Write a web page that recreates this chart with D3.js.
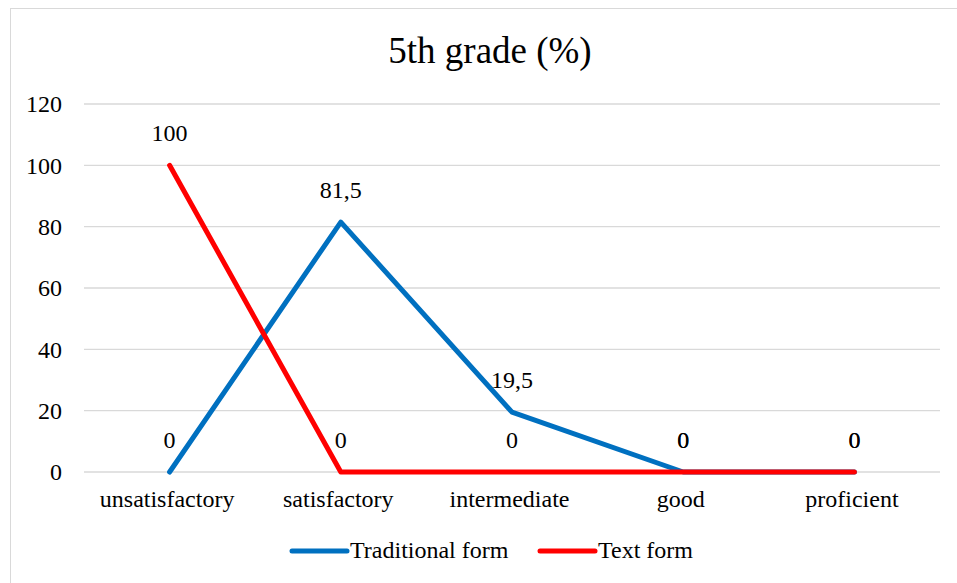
<!DOCTYPE html>
<html>
<head>
<meta charset="utf-8">
<script src="https://cdn.jsdelivr.net/npm/d3@7"></script>
<style>
  body { margin: 0; background: #fff; }
</style>
</head>
<body>
<svg id="chart" width="957" height="583"></svg>
<script>
const categories = ['unsatisfactory', 'satisfactory', 'intermediate', 'good', 'proficient'];
const traditional = [0, 81.5, 19.5, 0, 0];
const textForm = [100, 0, 0, 0, 0];
const seriesNames = ['Traditional form', 'Text form'];
const seriesColors = ['#0070c0', '#ff0000'];
const yTicks = [0, 20, 40, 60, 80, 100, 120];

const FONT = '24px';
const SERIF = '"Liberation Serif"';
const LABEL_OFFSET = 24; // data label baseline above point

const svg = d3.select('#chart');

// outer chart frame (only left/top edges fall inside the picture)
svg.append('rect')
  .attr('x', 10.5).attr('y', 8.5)
  .attr('width', 1000).attr('height', 1000)
  .attr('fill', 'none')
  .attr('stroke', '#d9d9d9');

const plot = { left: 84, right: 940, top: 104, bottom: 472 };

const x = d3.scalePoint()
  .domain(categories)
  .range([plot.left, plot.right])
  .padding(0.5);

const y = d3.scaleLinear()
  .domain([0, 120])
  .range([plot.bottom, plot.top]);

// gridlines
svg.append('g')
  .selectAll('line')
  .data(yTicks)
  .join('line')
  .attr('x1', plot.left)
  .attr('x2', plot.right)
  .attr('y1', d => y(d))
  .attr('y2', d => y(d))
  .attr('stroke', '#d9d9d9')
  .attr('stroke-width', 1.3);

// y axis labels
const yAxis = svg.append('g')
  .attr('transform', `translate(${plot.left}, 0)`)
  .call(d3.axisLeft(y).tickValues(yTicks).tickSize(0).tickPadding(22));
yAxis.select('.domain').remove();
yAxis.selectAll('text')
  .style('font-family', SERIF)
  .style('font-size', FONT)
  .attr('fill', '#000');

// x axis labels
const xAxis = svg.append('g')
  .attr('transform', `translate(0, ${plot.bottom})`)
  .call(d3.axisBottom(x).tickSize(0).tickPadding(18));
xAxis.select('.domain').remove();
xAxis.selectAll('text')
  .attr('dx', -3)
  .style('font-family', SERIF)
  .style('font-size', FONT)
  .attr('fill', '#000');

const allSeries = [traditional, textForm];

const line = d3.line()
  .x((d, i) => x(categories[i]))
  .y(d => y(d));

allSeries.forEach((values, s) => {
  svg.append('path')
    .datum(values)
    .attr('d', line)
    .attr('fill', 'none')
    .attr('stroke', seriesColors[s])
    .attr('stroke-width', 5)
    .attr('stroke-linejoin', 'round')
    .attr('stroke-linecap', 'round');
});

// data labels
allSeries.forEach((values, s) => {
  svg.append('g')
    .selectAll('text')
    .data(values)
    .join('text')
    .attr('x', (d, i) => x(categories[i]))
    .attr('y', d => y(d) - LABEL_OFFSET)
    .attr('text-anchor', 'middle')
    .style('font-family', SERIF)
    .style('font-size', FONT)
    .text(d => String(d).replace('.', ','));
});

// title
svg.append('text')
  .attr('x', 490)
  .attr('y', 63)
  .attr('text-anchor', 'middle')
  .style('font-family', SERIF)
  .style('font-size', '37px')
  .text('5th grade (%)');

// legend
const legendItems = [
  { name: seriesNames[0], color: seriesColors[0], x: 292 },
  { name: seriesNames[1], color: seriesColors[1], x: 540 }
];
const legend = svg.append('g');
legendItems.forEach(item => {
  legend.append('line')
    .attr('x1', item.x).attr('x2', item.x + 55)
    .attr('y1', 551).attr('y2', 551)
    .attr('stroke', item.color)
    .attr('stroke-width', 5)
    .attr('stroke-linecap', 'round');
  legend.append('text')
    .attr('x', item.x + 58)
    .attr('y', 558)
    .style('font-family', SERIF)
    .style('font-size', FONT)
    .text(item.name);
});
</script>
</body>
</html>
